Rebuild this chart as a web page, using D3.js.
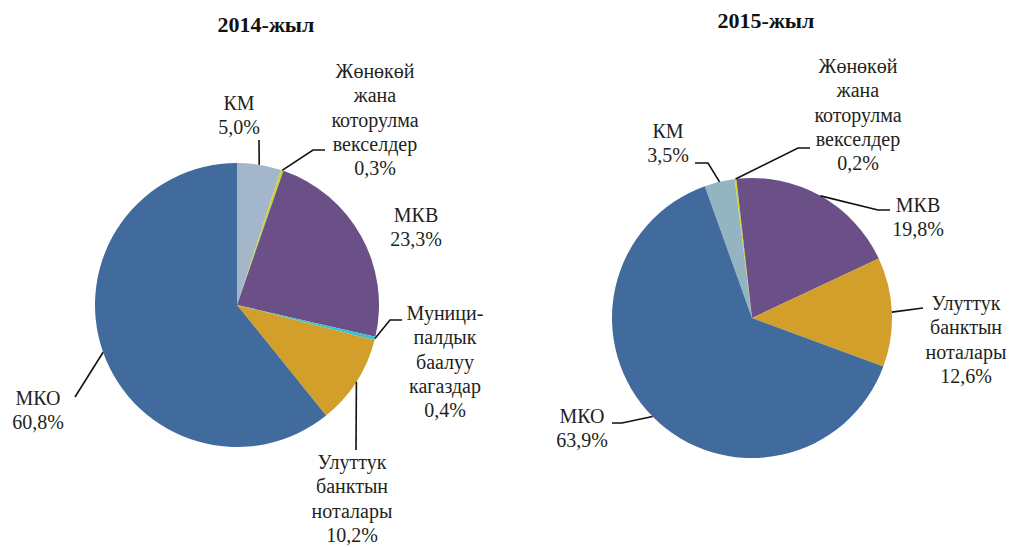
<!DOCTYPE html>
<html>
<head>
<meta charset="utf-8">
<script src="https://cdn.jsdelivr.net/npm/d3@7"></script>
<style>
  body { margin: 0; background: #fff; }
  svg { display: block; }
</style>
</head>
<body>
<div id="chart"></div>
<script>
// data
var categories2014 = ["КМ", "Жөнөкөй жана которулма векселдер", "МКВ", "Муниципалдык баалуу кагаздар", "Улуттук банктын ноталары", "МКО"];
var values2014 = [5.0, 0.3, 23.3, 0.4, 10.2, 60.8];
var labelLines2014 = [["КМ"], ["Жөнөкөй", "жана", "которулма", "векселдер"], ["МКВ"], ["Муници-", "палдык", "баалуу", "кагаздар"], ["Улуттук", "банктын", "ноталары"], ["МКО"]];

var categories2015 = ["КМ", "Жөнөкөй жана которулма векселдер", "МКВ", "Улуттук банктын ноталары", "МКО"];
var values2015 = [3.5, 0.2, 19.8, 12.6, 63.9];
var labelLines2015 = [["КМ"], ["Жөнөкөй", "жана", "которулма", "векселдер"], ["МКВ"], ["Улуттук", "банктын", "ноталары"], ["МКО"]];

var titles = ["2014-жыл", "2015-жыл"];

var colorMap = {
  "КМ": null,
  "Жөнөкөй жана которулма векселдер": "#c9d530",
  "МКВ": "#6a5087",
  "Муниципалдык баалуу кагаздар": "#3cc0cf",
  "Улуттук банктын ноталары": "#d29f2a",
  "МКО": "#416b9d"
};

var serif = "'Liberation Serif', 'DejaVu Serif', 'Times New Roman', serif";

// layout (label text anchor + leader bend/end points)
var layout2014 = [
  { x: 239, y: 110, pts: [[259, 140]] },
  { x: 375, y: 78, pts: [[313, 150], [325, 150]] },
  { x: 416, y: 222, pts: [] },
  { x: 445, y: 320, pts: [[390, 320], [402, 320]] },
  { x: 352, y: 469, pts: [[356, 450]] },
  { x: 38, y: 405, pts: [[75, 397]] }
];
var layout2015 = [
  { x: 668, y: 138, pts: [[708, 163], [695, 163]] },
  { x: 858, y: 73, pts: [[798, 148], [810, 148]] },
  { x: 918, y: 212, pts: [[878, 210], [890, 210]] },
  { x: 966, y: 310, pts: [[923, 308]] },
  { x: 582, y: 423, pts: [[622, 423], [612, 423]] }
];

var svgWidth = 1011, svgHeight = 547;

var svg = d3.select("#chart").append("svg")
  .attr("width", svgWidth)
  .attr("height", svgHeight);

function drawPie(opts) {
  var g = svg.append("g");
  var startA = opts.start * Math.PI / 180;

  var pie = d3.pie().sort(null).value(d => d)
    .startAngle(startA).endAngle(startA + 2 * Math.PI);
  var arc = d3.arc().innerRadius(0).outerRadius(opts.r);
  var arcs = pie(opts.values);

  g.selectAll("path")
    .data(arcs)
    .enter()
    .append("path")
    .attr("transform", `translate(${opts.cx}, ${opts.cy})`)
    .attr("d", arc)
    .attr("fill", (d, i) => opts.colors[i]);

  // leader lines + labels
  arcs.forEach(function(a, i) {
    var lay = opts.layout[i];
    var mid = (a.startAngle + a.endAngle) / 2;
    if (lay.pts.length) {
      var p0 = [opts.cx + opts.r * Math.sin(mid), opts.cy - opts.r * Math.cos(mid)];
      g.append("path")
        .attr("d", d3.line()([p0].concat(lay.pts)))
        .attr("fill", "none")
        .attr("stroke", "#111")
        .attr("stroke-width", 1.6);
    }
    var lines = opts.lines[i].concat([d3.format(".1f")(opts.values[i]).replace(".", ",") + "%"]);
    var t = g.append("text")
      .attr("font-family", serif)
      .attr("font-size", 20)
      .attr("fill", "#231f20")
      .attr("text-anchor", "middle");
    lines.forEach(function(s, k) {
      t.append("tspan")
        .attr("x", lay.x)
        .attr("y", lay.y + k * 24.3)
        .text(s);
    });
  });

  g.append("text")
    .attr("font-family", serif)
    .attr("font-size", 22)
    .attr("font-weight", "bold")
    .attr("fill", "#111")
    .attr("x", opts.tx)
    .attr("y", opts.ty)
    .attr("text-anchor", "middle")
    .text(opts.title);
}

drawPie({
  values: values2014, lines: labelLines2014, layout: layout2014,
  colors: categories2014.map(c => colorMap[c] || "#a3b6ca"),
  cx: 237, cy: 305, r: 142, start: 0,
  title: titles[0], tx: 266, ty: 32
});

drawPie({
  values: values2015, lines: labelLines2015, layout: layout2015,
  colors: categories2015.map(c => colorMap[c] || "#95b4c1"),
  cx: 752, cy: 318, r: 140, start: -19.7,
  title: titles[1], tx: 766, ty: 28
});
</script>
</body>
</html>
